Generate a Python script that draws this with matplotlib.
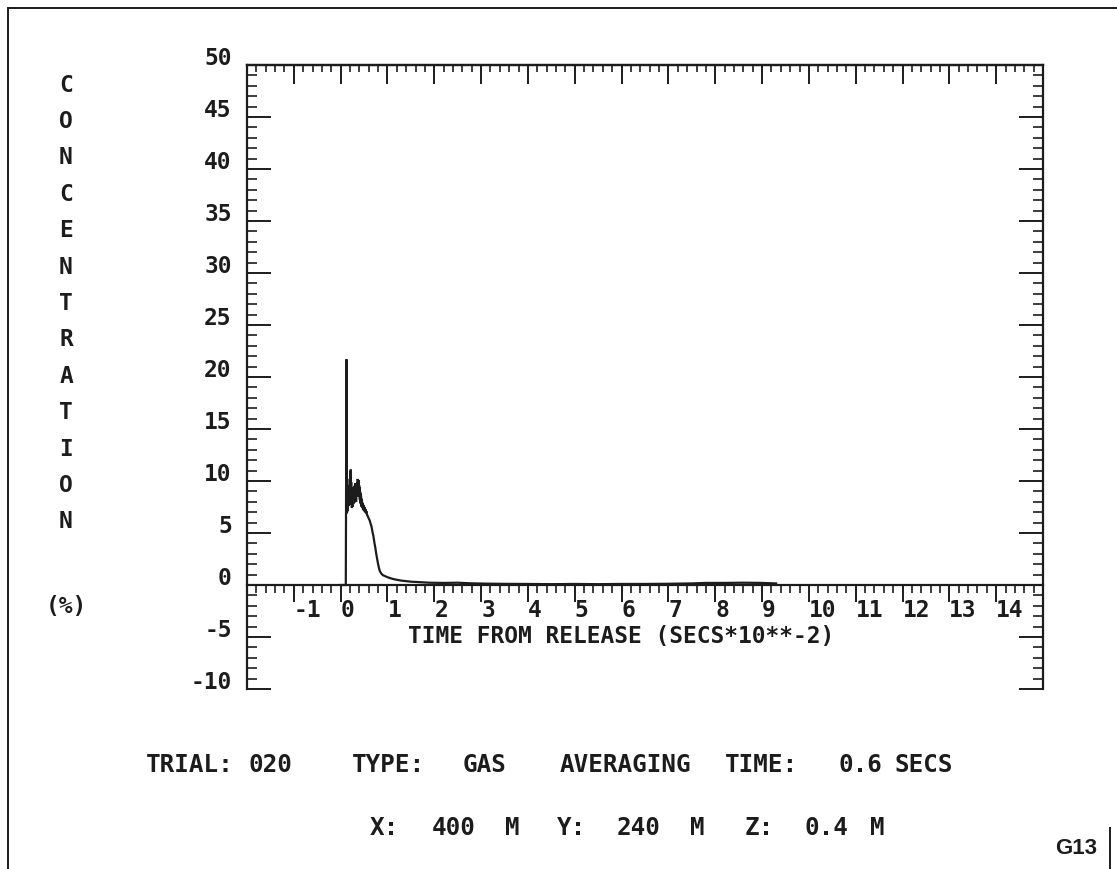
import matplotlib
matplotlib.use('Agg')
import matplotlib.pyplot as plt
from matplotlib.ticker import MultipleLocator

# -- DATA --
time = [0.00, 0.11, 0.125, 0.13, 0.135, 0.14, 0.145, 0.15, 0.155, 0.16,
        0.165, 0.17, 0.175, 0.18, 0.185, 0.19, 0.195, 0.20, 0.205, 0.21,
        0.215, 0.22, 0.225, 0.23, 0.235, 0.24, 0.245, 0.25, 0.255, 0.26,
        0.265, 0.27, 0.275, 0.28, 0.285, 0.29, 0.295, 0.30, 0.305, 0.31,
        0.315, 0.32, 0.325, 0.33, 0.335, 0.34, 0.345, 0.35, 0.355, 0.36,
        0.365, 0.37, 0.375, 0.38, 0.385, 0.39, 0.395, 0.40, 0.405, 0.41,
        0.415, 0.42, 0.425, 0.43, 0.435, 0.44, 0.445, 0.45, 0.455, 0.46,
        0.47, 0.48, 0.49, 0.50, 0.51, 0.52, 0.53, 0.54, 0.55, 0.56,
        0.58, 0.60, 0.62, 0.64, 0.66, 0.68, 0.70, 0.72, 0.74, 0.76,
        0.78, 0.80, 0.82, 0.84, 0.87, 0.90, 0.95, 1.00, 1.10, 1.20,
        1.30, 1.50, 1.70, 1.90, 2.20, 2.50, 2.80, 3.10, 3.50, 4.00,
        4.50, 5.00, 5.50, 6.00, 6.50, 7.00, 7.50, 7.80, 8.20, 8.60,
        9.00, 9.30]
conc = [0.0, 0.0, 21.7, 7.4, 6.9, 9.3, 7.6, 8.9, 7.1, 9.4,
        7.6, 9.0, 7.9, 9.6, 7.7, 8.8, 10.2, 8.0, 10.9, 8.6,
        11.1, 8.0, 9.9, 7.8, 9.2, 7.4, 8.9, 7.5, 9.3, 7.9,
        9.0, 7.8, 9.4, 8.1, 9.2, 7.9, 9.5, 8.2, 9.6, 8.3,
        9.8, 8.4, 9.3, 8.0, 9.5, 8.5, 9.7, 8.6, 9.9, 8.8,
        10.2, 8.9, 10.0, 9.1, 10.1, 8.7, 9.6, 8.5, 9.4, 8.2,
        9.0, 7.9, 8.8, 7.8, 8.6, 7.6, 8.3, 7.5, 8.1, 7.4,
        7.9, 7.2, 7.7, 7.1, 7.5, 7.0, 7.3, 6.9, 7.1, 6.8,
        6.6, 6.4, 6.2, 5.9, 5.6, 5.1, 4.7, 4.1, 3.6, 3.0,
        2.5, 2.0, 1.6, 1.3, 1.1, 0.95, 0.85, 0.75, 0.6, 0.5,
        0.42, 0.32, 0.27, 0.22, 0.2, 0.22, 0.16, 0.13, 0.11, 0.1,
        0.08, 0.1, 0.08, 0.1, 0.1, 0.12, 0.15, 0.2, 0.2, 0.22,
        0.2, 0.15]

x_ticks = list(range(-1, 15))
x_tick_labels = ['-1', '0', '1', '2', '3', '4', '5', '6', '7', '8', '9',
                 '10', '11', '12', '13', '14']
y_ticks = list(range(-10, 51, 5))
y_tick_labels = ['-10', '-5', '0', '5', '10', '15', '20', '25', '30', '35',
                 '40', '45', '50']

y_title = 'CONCENTRATION'
y_units = '(%)'
x_title = 'TIME FROM RELEASE (SECS*10**-2)'
# (text, left x in px) for the two info lines under the plot
info_line1 = [('TRIAL:', 146), ('020', 248), ('TYPE:', 352), ('GAS', 463),
              ('AVERAGING', 560), ('TIME:', 725), ('0.6', 838), ('SECS', 895)]
info_line2 = [('X:', 370), ('400', 432), ('M', 505), ('Y:', 557),
              ('240', 617), ('M', 690), ('Z:', 745), ('0.4', 805), ('M', 870)]
sheet_id = 'G13'

# -- FIGURE --
W, H = 1117, 869
INK = '#1c1c1c'
MONO = 'DejaVu Sans Mono'
FS = 16.5

fig = plt.figure(figsize=(W / 100, H / 100), dpi=100)
fig.patch.set_facecolor('white')


def fx(px):
    return px / W


def fy(py):
    return 1 - py / H


ax = fig.add_axes([fx(247), fy(689), fx(1043) - fx(247), fy(65) - fy(689)])
ax.set_xlim(-2, 15)
ax.set_ylim(-10, 50)

ax.plot(time, conc, color=INK, lw=1.6, solid_joinstyle='miter')

# x axis drawn through zero, no bottom frame
ax.spines['bottom'].set_position(('data', 0))
for s in ax.spines.values():
    s.set_linewidth(1.6)
    s.set_color(INK)

ax.set_xticks(x_ticks, x_tick_labels)
ax.xaxis.set_minor_locator(MultipleLocator(0.2))
ax.tick_params(axis='x', which='major', direction='out', length=12,
               width=1.4, color=INK, pad=-2, labelsize=FS, labelcolor=INK)
ax.tick_params(axis='x', which='minor', direction='out', length=5.5,
               width=1.2, color=INK)
for lab in ax.get_xticklabels():
    lab.set_fontfamily(MONO)
    lab.set_fontweight('bold')
    lab.set_horizontalalignment('left')

top = ax.secondary_xaxis('top')
top.set_xticks(x_ticks)
top.xaxis.set_minor_locator(MultipleLocator(0.2))
top.tick_params(axis='x', which='major', direction='in', length=13.5,
                width=1.4, color=INK, labeltop=False)
top.tick_params(axis='x', which='minor', direction='in', length=5,
                width=1.2, color=INK)
top.spines['top'].set_linewidth(1.6)

ax.set_yticks(y_ticks, y_tick_labels)
ax.yaxis.set_minor_locator(MultipleLocator(1))
ax.yaxis.set_ticks_position('both')
ax.tick_params(axis='y', which='major', direction='in', length=17,
               width=1.4, color=INK, pad=11, labelsize=FS, labelcolor=INK)
ax.tick_params(axis='y', which='minor', direction='in', length=7.5,
               width=1.2, color=INK)
for lab in ax.get_yticklabels():
    lab.set_fontfamily(MONO)
    lab.set_fontweight('bold')
    lab.set_verticalalignment('baseline')

# -- TEXT --
txt = dict(color=INK, fontfamily=MONO, fontweight='bold', fontsize=FS)
info = dict(txt, fontsize=17.5)
for i, ch in enumerate(y_title):
    fig.text(fx(66), fy(85 + i * 36.4), ch, ha='center', va='center', **txt)
fig.text(fx(66), fy(606), y_units, ha='center', va='center', **txt)
fig.text(fx(621), fy(636), x_title, ha='center', va='center', **txt)
for word, left in info_line1:
    fig.text(fx(left), fy(765), word, ha='left', va='center', **info)
for word, left in info_line2:
    fig.text(fx(left), fy(828), word, ha='left', va='center', **info)
fig.text(fx(1076), fy(848), sheet_id, ha='center', va='center', color=INK,
         fontfamily='Liberation Sans', fontweight='bold', fontsize=16)

# sheet border (left, top, bit of the right edge)
fig.add_artist(plt.Line2D([fx(8), fx(8)], [fy(8), 0], color=INK, lw=1.4))
fig.add_artist(plt.Line2D([fx(8), 1], [fy(8), fy(8)], color=INK, lw=1.4))
fig.add_artist(plt.Line2D([fx(1110), fx(1110)], [fy(828), 0], color=INK,
                          lw=1.4))

fig.savefig('out.png', dpi=100)
